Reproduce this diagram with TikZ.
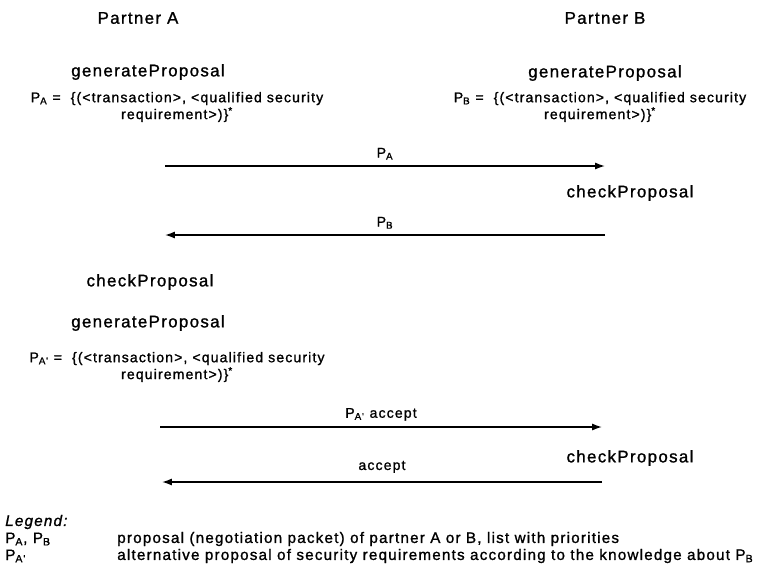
\documentclass[tikz,border=0pt]{standalone}
\usepackage{fontspec}
\setmainfont{Liberation Sans}
\newfontfamily\headfont[LetterSpace=8,FakeBold=1.2]{Liberation Sans}
\newfontfamily\txtfont[LetterSpace=8,FakeBold=1.2]{Liberation Sans}
\usetikzlibrary{positioning,arrows.meta}
\newcommand{\lowsub}[1]{\textsubscript{#1}}
\newcommand{\proposal}[1]{P\lowsub{#1} =\ \ \{(<transaction>, <qualified security\\requirement>)\}\textsuperscript{*}}

\begin{document}
\begin{tikzpicture}[x=0.025cm,y=-0.025cm,>={Latex[length=7pt,width=5pt]},
   head/.style={inner sep=0pt,font=\fontsize{12}{14}\selectfont\headfont},
   txt/.style={inner sep=0pt,align=center,font=\fontsize{10}{12}\selectfont\txtfont},
   key/.style={inner sep=0pt,font=\fontsize{10.8}{12}\selectfont\txtfont},
   msg/.style={->,line width=1pt}]
   \useasboundingbox (0,0) rectangle (784,580);
   % partners
   \node[head] (pa) at (138,18) {Partner A};
   \node[head] (pb) at (605,18) {Partner B};
   \node[head] (genA) at (148,72) {generateProposal};
   \node[head] (genB) at (605,73) {generateProposal};
   \node[txt] (propA) at (177,107) {\proposal{A}};
   \node[txt] (propB) at (600,107) {\proposal{B}};
   % first round
   \coordinate (a1) at (165,166);
   \coordinate (b1) at (605,166);
   \coordinate (b2) at (605,235);
   \coordinate (a2) at (165,235);
   \path[msg] (a1) edge node[txt,above=4pt] {P\lowsub{A}} (b1);
   \node[head] (chkB) at (630,193) {checkProposal};
   \path[msg] (b2) edge node[txt,above=4pt] {P\lowsub{B}} (a2);
   % second round
   \node[head] (chkA) at (150,282) {checkProposal};
   \node[head] (genA2) at (148,323) {generateProposal};
   \node[txt] (propA2) at (177,367) {\proposal{A'}};
   \coordinate (a3) at (160,427);
   \coordinate (b3) at (602,427);
   \coordinate (b4) at (602,482);
   \coordinate (a4) at (162,482);
   \path[msg] (a3) edge node[txt,above=4pt] {P\lowsub{A'} accept} (b3);
   \node[head] (chkB2) at (630,458) {checkProposal};
   \path[msg] (b4) edge node[txt,above=6pt] {accept} (a4);
   % legend
   \node[key,anchor=west] (leg) at (5,522) {\itshape Legend:};
   \node[key,anchor=west] (k1) at (5,539) {P\lowsub{A}, P\lowsub{B}};
   \node[key,anchor=west] (k2) at (5,556) {P\lowsub{A'}};
   \node[key,anchor=west] (d1) at (117,539) {proposal (negotiation packet) of partner A or B, list with priorities};
   \node[key,anchor=west] (d2) at (117,556) {alternative proposal of security requirements according to the knowledge about P\lowsub{B}};
\end{tikzpicture}
\end{document}
